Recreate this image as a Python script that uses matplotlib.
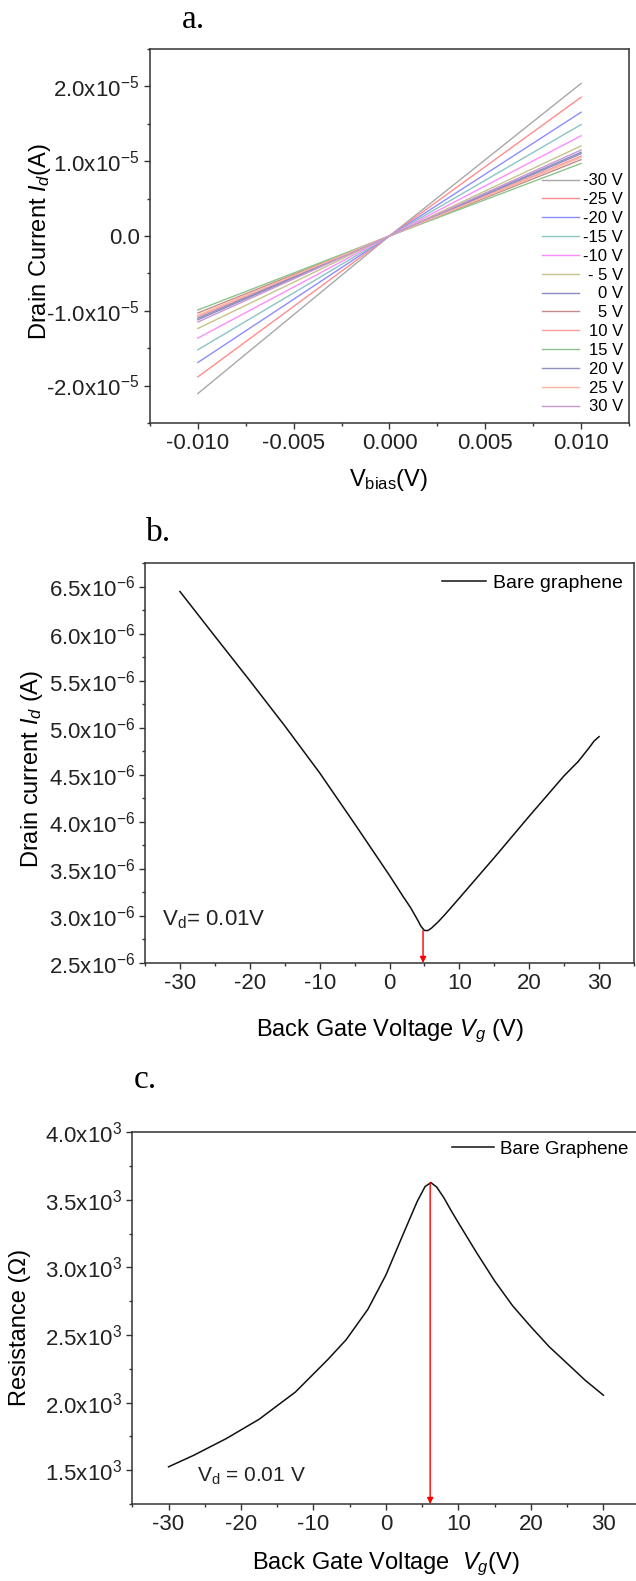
import matplotlib
matplotlib.use("Agg")
import matplotlib.pyplot as plt
from matplotlib.ticker import MultipleLocator, FuncFormatter, FormatStrFormatter

plt.rcParams["font.family"] = ["Liberation Sans", "DejaVu Sans"]
plt.rcParams["mathtext.fontset"] = "custom"
plt.rcParams["mathtext.rm"] = "Liberation Sans"
plt.rcParams["mathtext.it"] = "Liberation Sans:italic"
plt.rcParams["axes.unicode_minus"] = False

# %%

# Panel a: I-V sweeps for each back gate voltage
gate_v = [-30, -25, -20, -15, -10, -5, 0, 5, 10, 15, 20, 25, 30]
gate_labels = ["-30 V", "-25 V", "-20 V", "-15 V", "-10 V", "- 5 V", "0 V",
               "5 V", "10 V", "15 V", "20 V", "25 V", "30 V"]
vbias = [-0.010, 0.0, 0.010]
id_neg = [-2.107, -1.884, -1.692, -1.522, -1.366, -1.237, -1.12,
          -1.03, -1.08, -0.99, -1.10, -1.06, -1.15]  # x1e-5 A at -0.01 V
id_pos = [2.04, 1.855, 1.655, 1.49, 1.34, 1.205, 1.12,
          1.02, 1.07, 0.97, 1.10, 1.05, 1.15]  # x1e-5 A at +0.01 V
colors_a = ["#a8a8a8", "#ff8c8c", "#8c8cff", "#8cc4c4", "#ff8cff", "#c4c48c",
            "#8c8cc4", "#c48c8c", "#ff9c9c", "#8cc48c", "#9090c0", "#ffb4a0",
            "#c898d0"]

# Panel b: transfer curve, drain current vs gate
vg_b = [-30, -25, -20, -15, -10, -5, 0, 2, 3, 4, 4.5, 5, 5.5, 6, 7, 8, 10,
        15, 20, 25, 27, 28.5, 29.3, 30]
id_b = [6.447, 5.972, 5.50, 5.02, 4.52, 3.98, 3.43, 3.20, 3.09, 2.96,
        2.89, 2.845, 2.845, 2.87, 2.94, 3.02, 3.19, 3.62, 4.06, 4.49, 4.64,
        4.78, 4.86, 4.905]  # x1e-6 A
dirac_b = 4.8

# Panel c: resistance vs gate
vg_c = [-30, -26.5, -22, -17.5, -12.5, -8, -5.5, -2.5, 0, 2.5, 4.3, 5.4, 6.2,
        7, 8, 9, 10, 12.5, 15, 17.5, 20, 22.5, 25, 27.5, 30]
r_c = [1525, 1611, 1735, 1877, 2078, 2320, 2465, 2690, 2945, 3262, 3487,
       3599, 3628, 3595, 3515, 3420, 3330, 3110, 2900, 2715, 2561, 2415, 2290,
       2165, 2055]
dirac_c = 6.1

# %%


def sci_label(v, pos):
    if abs(v) < 1e-12:
        return "0.0"
    mant, exp = f"{v:.1e}".split("e")
    return f"{mant}x10$^{{{int(exp)}}}$"


def style_axes(ax):
    for s in ax.spines.values():
        s.set_linewidth(1.1)
        s.set_color("#333333")
    ax.tick_params(which="both", direction="out", top=False, right=False,
                   color="#333333", labelcolor="#222222", labelsize=16)
    ax.tick_params(which="major", length=4.5, width=1.0, pad=3)
    ax.tick_params(which="minor", length=2.5, width=1.0)


def right_align(fig, leg):
    # shift legend labels so that they end on the same x
    fig.canvas.draw()
    r = fig.canvas.get_renderer()
    texts = leg.get_texts()
    widths = [t.get_window_extent(r).width for t in texts]
    wmax = max(widths)
    for t, w in zip(texts, widths):
        t.set_position((wmax - w, 0))


fig = plt.figure(figsize=(6.36, 15.81), dpi=100)

# %%

# Panel a
ax_a = fig.add_axes([0.2358, 0.7325, 0.7532, 0.2365])
for v, lab, c, lo, hi in zip(gate_v, gate_labels, colors_a, id_neg, id_pos):
    ax_a.plot(vbias, [lo * 1e-5, 0.0, hi * 1e-5], color=c, lw=1.0, label=lab)
ax_a.set_xlim(-0.0125, 0.0125)
ax_a.set_ylim(-2.5e-5, 2.5e-5)
ax_a.xaxis.set_major_locator(MultipleLocator(0.005))
ax_a.xaxis.set_minor_locator(MultipleLocator(0.0025))
ax_a.xaxis.set_major_formatter(FormatStrFormatter("%.3f"))
ax_a.yaxis.set_major_locator(MultipleLocator(1e-5))
ax_a.yaxis.set_minor_locator(MultipleLocator(0.5e-5))
ax_a.yaxis.set_major_formatter(FuncFormatter(sci_label))
style_axes(ax_a)
ax_a.set_xlabel(r"V$_{\mathrm{bias}}$(V)", fontsize=17, va="center")
ax_a.xaxis.set_label_coords(0.499, -0.152)
ax_a.set_ylabel(r"Drain Current $I_d$(A)", fontsize=17, va="center")
ax_a.yaxis.set_label_coords(-0.23, 0.485)
leg_a = ax_a.legend(loc="center right", bbox_to_anchor=(0.9875, 0.345),
                    frameon=False, fontsize=12, handlelength=2.2,
                    handletextpad=0.24, labelspacing=0.23, borderpad=0,
                    borderaxespad=0)

# Panel b
ax_b = fig.add_axes([0.228, 0.3909, 0.7689, 0.2530])
ax_b.plot(vg_b, [v * 1e-6 for v in id_b], color="#111111", lw=1.1,
          label="Bare graphene")
ax_b.set_xlim(-35, 35)
ax_b.set_ylim(2.5e-6, 6.75e-6)
ax_b.xaxis.set_major_locator(MultipleLocator(10))
ax_b.xaxis.set_minor_locator(MultipleLocator(5))
ax_b.yaxis.set_major_locator(MultipleLocator(0.5e-6))
ax_b.yaxis.set_minor_locator(MultipleLocator(0.25e-6))
ax_b.yaxis.set_major_formatter(FuncFormatter(sci_label))
style_axes(ax_b)
ax_b.annotate("", xy=(dirac_b, 2.5e-6), xytext=(dirac_b, min(id_b) * 1e-6),
              arrowprops=dict(arrowstyle="-|>", color="red", lw=1.0,
                              mutation_scale=9, shrinkA=0, shrinkB=0))
ax_b.text(0.035, 0.095, r"V$_{\mathrm{d}}$= 0.01V", transform=ax_b.transAxes,
          fontsize=16, va="baseline", color="#222222")
ax_b.set_xlabel(r"Back Gate Voltage $V_g$ (V)", fontsize=17, va="center")
ax_b.xaxis.set_label_coords(0.501, -0.17)
ax_b.set_ylabel(r"Drain current $I_d$ (A)", fontsize=17, va="center")
ax_b.yaxis.set_label_coords(-0.231, 0.485)
ax_b.legend(loc="center right", bbox_to_anchor=(0.9775, 0.95), frameon=False,
            fontsize=14, handlelength=2.27, handletextpad=0.36, borderpad=0,
            borderaxespad=0)

# Panel c
ax_c = fig.add_axes([0.208, 0.0487, 0.7977, 0.2351])
ax_c.plot(vg_c, r_c, color="#111111", lw=1.1, label="Bare Graphene")
ax_c.set_xlim(-35, 35)
ax_c.set_ylim(1250, 4000)
ax_c.xaxis.set_major_locator(MultipleLocator(10))
ax_c.xaxis.set_minor_locator(MultipleLocator(5))
ax_c.yaxis.set_major_locator(MultipleLocator(500))
ax_c.yaxis.set_minor_locator(MultipleLocator(250))
ax_c.yaxis.set_major_formatter(FuncFormatter(sci_label))
style_axes(ax_c)
ax_c.annotate("", xy=(dirac_c, 1250), xytext=(dirac_c, max(r_c)),
              arrowprops=dict(arrowstyle="-|>", color="red", lw=1.0,
                              mutation_scale=9, shrinkA=0, shrinkB=0))
ax_c.text(0.1275, 0.06, r"V$_{\mathrm{d}}$ = 0.01 V", transform=ax_c.transAxes,
          fontsize=15, va="baseline", color="#222222")
ax_c.set_xlabel(r"Back Gate Voltage  $V_g$(V)", fontsize=17, va="center")
ax_c.xaxis.set_label_coords(0.5, -0.161)
ax_c.set_ylabel("Resistance (Ω)", fontsize=17, va="center")
ax_c.yaxis.set_label_coords(-0.222, 0.476)
ax_c.legend(loc="center right", bbox_to_anchor=(0.977, 0.955), frameon=False,
            fontsize=13.5, handlelength=2.24, handletextpad=0.32, borderpad=0,
            borderaxespad=0)

# Panel letters
for x, y, s in [(0.305, 0.9874, "a."), (0.25, 0.663, "b."), (0.228, 0.3169, "c.")]:
    fig.text(x, y, s, family="Liberation Serif", fontsize=24, ha="center",
             va="center")

right_align(fig, leg_a)

plt.savefig("out.png", dpi=100)
